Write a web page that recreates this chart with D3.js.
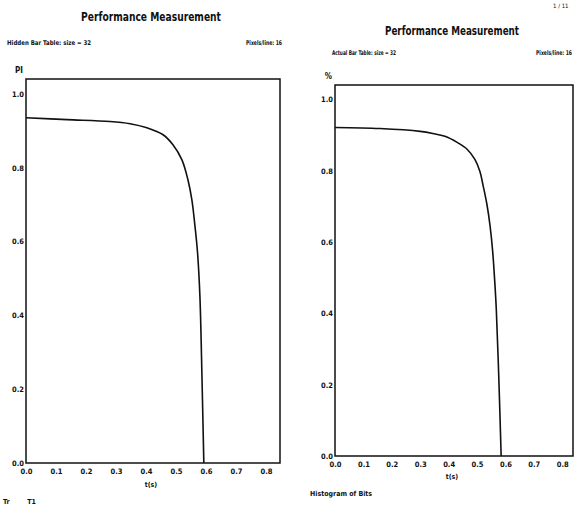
<!DOCTYPE html>
<html>
<head>
<meta charset="utf-8">
<script src="https://cdn.jsdelivr.net/npm/d3@7"></script>
<style>
  body { margin: 0; background: #fff; }
  svg { display: block; }
  text { fill: #111; font-family: "DejaVu Sans Condensed", "Liberation Sans", sans-serif; white-space: pre; }
</style>
</head>
<body>
<div id="chart"></div>
<script>
// tick values shared by both panels
const xTicks = [0, 0.1, 0.2, 0.3, 0.4, 0.5, 0.6, 0.7, 0.8]
const yTicks = [0, 0.2, 0.4, 0.6, 0.8, 1.0]

// left panel curve
const leftX = [0, 0.137, 0.28, 0.347, 0.403, 0.457, 0.49, 0.52, 0.54, 0.553, 0.563, 0.572, 0.58, 0.587, 0.593]
const leftY = [0.935, 0.93, 0.925, 0.919, 0.908, 0.889, 0.862, 0.821, 0.767, 0.713, 0.645, 0.57, 0.45, 0.225, 0]

// right panel curve
const rightX = [0, 0.158, 0.30, 0.345, 0.387, 0.43, 0.465, 0.493, 0.51, 0.522, 0.535, 0.546, 0.555, 0.562, 0.568, 0.577, 0.585]
const rightY = [0.921, 0.918, 0.91, 0.904, 0.896, 0.879, 0.86, 0.831, 0.798, 0.756, 0.705, 0.645, 0.575, 0.495, 0.41, 0.213, 0]

const svg = d3.select('#chart')
  .append('svg')
  .attr('width', 584)
  .attr('height', 508)

function drawPanel(p) {
  const x = d3.scaleLinear().domain([0, p.xMax]).range([p.left, p.right])
  const y = d3.scaleLinear().domain([0, 1.04]).range([p.bottom, p.top])
  const g = svg.append('g')

  // title + header texts
  g.append('text')
    .attr('x', p.titleX).attr('y', p.titleY)
    .attr('text-anchor', 'middle')
    .attr('font-size', 13).attr('font-weight', 'bold')
    .attr('textLength', p.titleW).attr('lengthAdjust', 'spacingAndGlyphs')
    .text('Performance Measurement')
  g.append('text')
    .attr('x', p.subX).attr('y', p.subY)
    .attr('font-size', 6.5).attr('font-weight', 'bold')
    .attr('textLength', p.subW).attr('lengthAdjust', 'spacingAndGlyphs')
    .text(p.sub)
  g.append('text')
    .attr('x', p.noteX).attr('y', p.subY)
    .attr('font-size', 6.5).attr('font-weight', 'bold')
    .attr('textLength', 36).attr('lengthAdjust', 'spacingAndGlyphs')
    .text(p.note)

  // axes (labels only, the frame draws the lines)
  const xa = g.append('g')
    .attr('transform', `translate(0,${p.bottom})`)
    .call(d3.axisBottom(x).tickValues(xTicks).tickSize(0).tickPadding(p.xPad).tickFormat(d3.format('.1f')))
  const ya = g.append('g')
    .attr('transform', `translate(${p.left},0)`)
    .call(d3.axisLeft(y).tickValues(yTicks).tickSize(0).tickPadding(2).tickFormat(d3.format('.1f')))
  xa.select('.domain').remove()
  ya.select('.domain').remove()
  g.selectAll('.tick text')
    .attr('font-size', 7.5).attr('font-weight', 'bold')
    .style('font-family', '"DejaVu Sans Condensed", sans-serif')
    .attr('fill', '#111')

  g.append('text')
    .attr('x', p.left - 3).attr('y', p.top - 6)
    .attr('text-anchor', 'end')
    .attr('font-size', 8).attr('font-weight', 'bold')
    .text(p.yLabel)
  g.append('text')
    .attr('x', (p.left + p.right) / 2 - 2).attr('y', p.xLabelY)
    .attr('text-anchor', 'middle')
    .attr('font-size', 7).attr('font-weight', 'bold')
    .text(p.xLabel)

  // frame
  g.append('rect')
    .attr('x', p.left).attr('y', p.top)
    .attr('width', p.right - p.left).attr('height', p.bottom - p.top)
    .attr('fill', 'none').attr('stroke', '#111').attr('stroke-width', 1.5)

  // curve
  const pts = p.xs.map((v, i) => [v, p.ys[i]])
  g.append('path')
    .datum(pts)
    .attr('fill', 'none')
    .attr('stroke', '#111')
    .attr('stroke-width', 1.6)
    .attr('d', d3.line().x(d => x(d[0])).y(d => y(d[1])).curve(d3.curveCatmullRom.alpha(0.5)))

  g.append('text')
    .attr('x', p.footX).attr('y', p.footY)
    .attr('font-size', 7).attr('font-weight', 'bold')
    .text(p.foot)
}

drawPanel({
  left: 26, right: 280, top: 79, bottom: 463, xMax: 0.847,
  xs: leftX, ys: leftY, xPad: 6,
  titleX: 151, titleY: 21, titleW: 140,
  sub: 'Hidden Bar Table: size = 32', subX: 7, subY: 45, subW: 84,
  note: 'Pixels/line: 16', noteX: 246,
  yLabel: 'PI', xLabel: 't(s)', xLabelY: 487,
  foot: 'Tr        T1', footX: 3, footY: 504
})

drawPanel({
  left: 335, right: 573, top: 85, bottom: 456, xMax: 0.838,
  xs: rightX, ys: rightY, xPad: 6,
  titleX: 452, titleY: 35, titleW: 134,
  sub: 'Actual Bar Table: size = 32', subX: 332, subY: 55, subW: 64,
  note: 'Pixels/line: 16', noteX: 536,
  yLabel: '%', xLabel: 't(s)', xLabelY: 479,
  foot: 'Histogram of Bits', footX: 310, footY: 496
})

svg.append('text')
  .attr('x', 553).attr('y', 8)
  .attr('font-size', 6)
  .attr('fill', '#555')
  .text('1 / 11')
</script>
</body>
</html>
